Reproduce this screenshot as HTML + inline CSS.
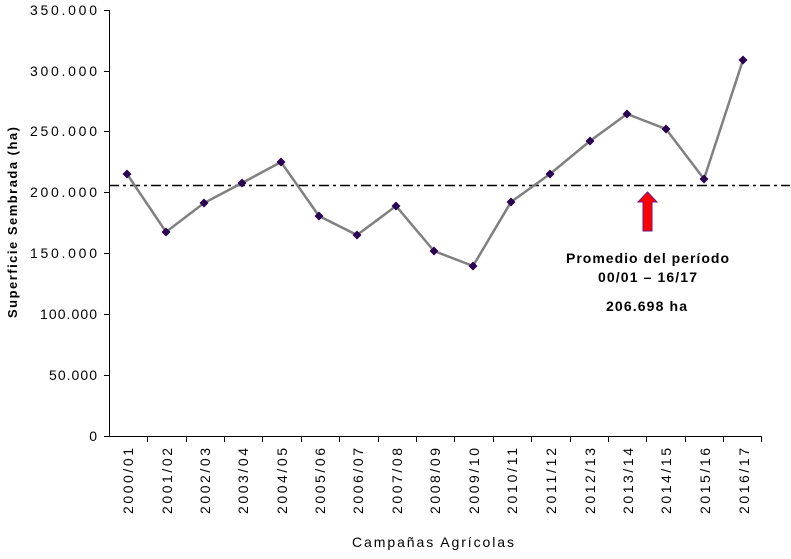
<!DOCTYPE html><html><head><style>body{margin:0;background:#fff}</style></head><body>
<svg width="791" height="554" xmlns="http://www.w3.org/2000/svg" font-family="Liberation Sans, sans-serif">
<g stroke="#000" stroke-width="1">
<line x1="109.5" y1="10" x2="109.5" y2="436"/>
<line x1="109" y1="436.5" x2="762" y2="436.5"/>
<line x1="104" y1="10.5" x2="109" y2="10.5"/><line x1="104" y1="71.5" x2="109" y2="71.5"/><line x1="104" y1="131.5" x2="109" y2="131.5"/><line x1="104" y1="192.5" x2="109" y2="192.5"/><line x1="104" y1="253.5" x2="109" y2="253.5"/><line x1="104" y1="314.5" x2="109" y2="314.5"/><line x1="104" y1="375.5" x2="109" y2="375.5"/><line x1="104" y1="436.5" x2="109" y2="436.5"/>
<path d="M147.5 436v6M186.5 436v6M224.5 436v6M262.5 436v6M301.5 436v6M339.5 436v6M378.5 436v6M416.5 436v6M454.5 436v6M493.5 436v6M531.5 436v6M570.5 436v6M608.5 436v6M646.5 436v6M685.5 436v6M723.5 436v6M761.5 436v6"/>
</g>
<g font-size="14" text-anchor="end" fill="#000">
<text x="97" y="15" textLength="67">350.000</text><text x="97" y="76" textLength="67">300.000</text><text x="97" y="136" textLength="67">250.000</text><text x="97" y="197" textLength="67">200.000</text><text x="97" y="258" textLength="67">150.000</text><text x="97" y="319" textLength="57">100.000</text><text x="97" y="380" textLength="48">50.000</text><text x="97" y="441">0</text>
</g>
<g font-size="14" text-anchor="end" fill="#000">
<text transform="translate(133,448) rotate(-90)" textLength="66">2000/01</text>
<text transform="translate(172,448) rotate(-90)" textLength="66">2001/02</text>
<text transform="translate(210,448) rotate(-90)" textLength="66">2002/03</text>
<text transform="translate(248,448) rotate(-90)" textLength="66">2003/04</text>
<text transform="translate(287,448) rotate(-90)" textLength="66">2004/05</text>
<text transform="translate(325,448) rotate(-90)" textLength="66">2005/06</text>
<text transform="translate(363,448) rotate(-90)" textLength="66">2006/07</text>
<text transform="translate(402,448) rotate(-90)" textLength="66">2007/08</text>
<text transform="translate(440,448) rotate(-90)" textLength="66">2008/09</text>
<text transform="translate(479,448) rotate(-90)" textLength="66">2009/10</text>
<text transform="translate(517,448) rotate(-90)" textLength="66">2010/11</text>
<text transform="translate(556,448) rotate(-90)" textLength="66">2011/12</text>
<text transform="translate(595,448) rotate(-90)" textLength="66">2012/13</text>
<text transform="translate(633,448) rotate(-90)" textLength="66">2013/14</text>
<text transform="translate(671,448) rotate(-90)" textLength="66">2014/15</text>
<text transform="translate(710,448) rotate(-90)" textLength="66">2015/16</text>
<text transform="translate(749,448) rotate(-90)" textLength="66">2016/17</text>
</g>
<text x="352" y="547" font-size="14" textLength="162">Campañas Agrícolas</text>
<text transform="translate(17,318) rotate(-90)" font-size="13" font-weight="bold" textLength="191">Superficie Sembrada (ha)</text>
<line x1="109" y1="185.5" x2="790" y2="185.5" stroke="#000" stroke-width="1.6" stroke-dasharray="10,4,3,4"/>
<polyline fill="none" stroke="#808080" stroke-width="2.5" points="127,174 166,232 204,203 242,183 281,162 319,216 357,235 396,206 434,251 473,266 511,202 550,174 590,141 627,114 666,129 704,179 743,60"/>
<g fill="#2a0050">
<path d="M127 169.5l4.5 4.5-4.5 4.5-4.5-4.5z M166 227.5l4.5 4.5-4.5 4.5-4.5-4.5z M204 198.5l4.5 4.5-4.5 4.5-4.5-4.5z M242 178.5l4.5 4.5-4.5 4.5-4.5-4.5z M281 157.5l4.5 4.5-4.5 4.5-4.5-4.5z M319 211.5l4.5 4.5-4.5 4.5-4.5-4.5z M357 230.5l4.5 4.5-4.5 4.5-4.5-4.5z M396 201.5l4.5 4.5-4.5 4.5-4.5-4.5z M434 246.5l4.5 4.5-4.5 4.5-4.5-4.5z M473 261.5l4.5 4.5-4.5 4.5-4.5-4.5z M511 197.5l4.5 4.5-4.5 4.5-4.5-4.5z M550 169.5l4.5 4.5-4.5 4.5-4.5-4.5z M590 136.5l4.5 4.5-4.5 4.5-4.5-4.5z M627 109.5l4.5 4.5-4.5 4.5-4.5-4.5z M666 124.5l4.5 4.5-4.5 4.5-4.5-4.5z M704 174.5l4.5 4.5-4.5 4.5-4.5-4.5z M743 55.5l4.5 4.5-4.5 4.5-4.5-4.5z"/>
</g>
<path d="M647.5 192 L657 202 L652 202 L652 231 L643 231 L643 202 L638 202 Z" fill="#f00" stroke="#6a1a8a" stroke-width="1"/>
<g font-size="14" font-weight="bold">
<text x="566" y="263" textLength="163">Promedio del período</text>
<text x="598" y="282" textLength="99">00/01 – 16/17</text>
<text x="606" y="311" textLength="81">206.698 ha</text>
</g>
</svg>
</body></html>
